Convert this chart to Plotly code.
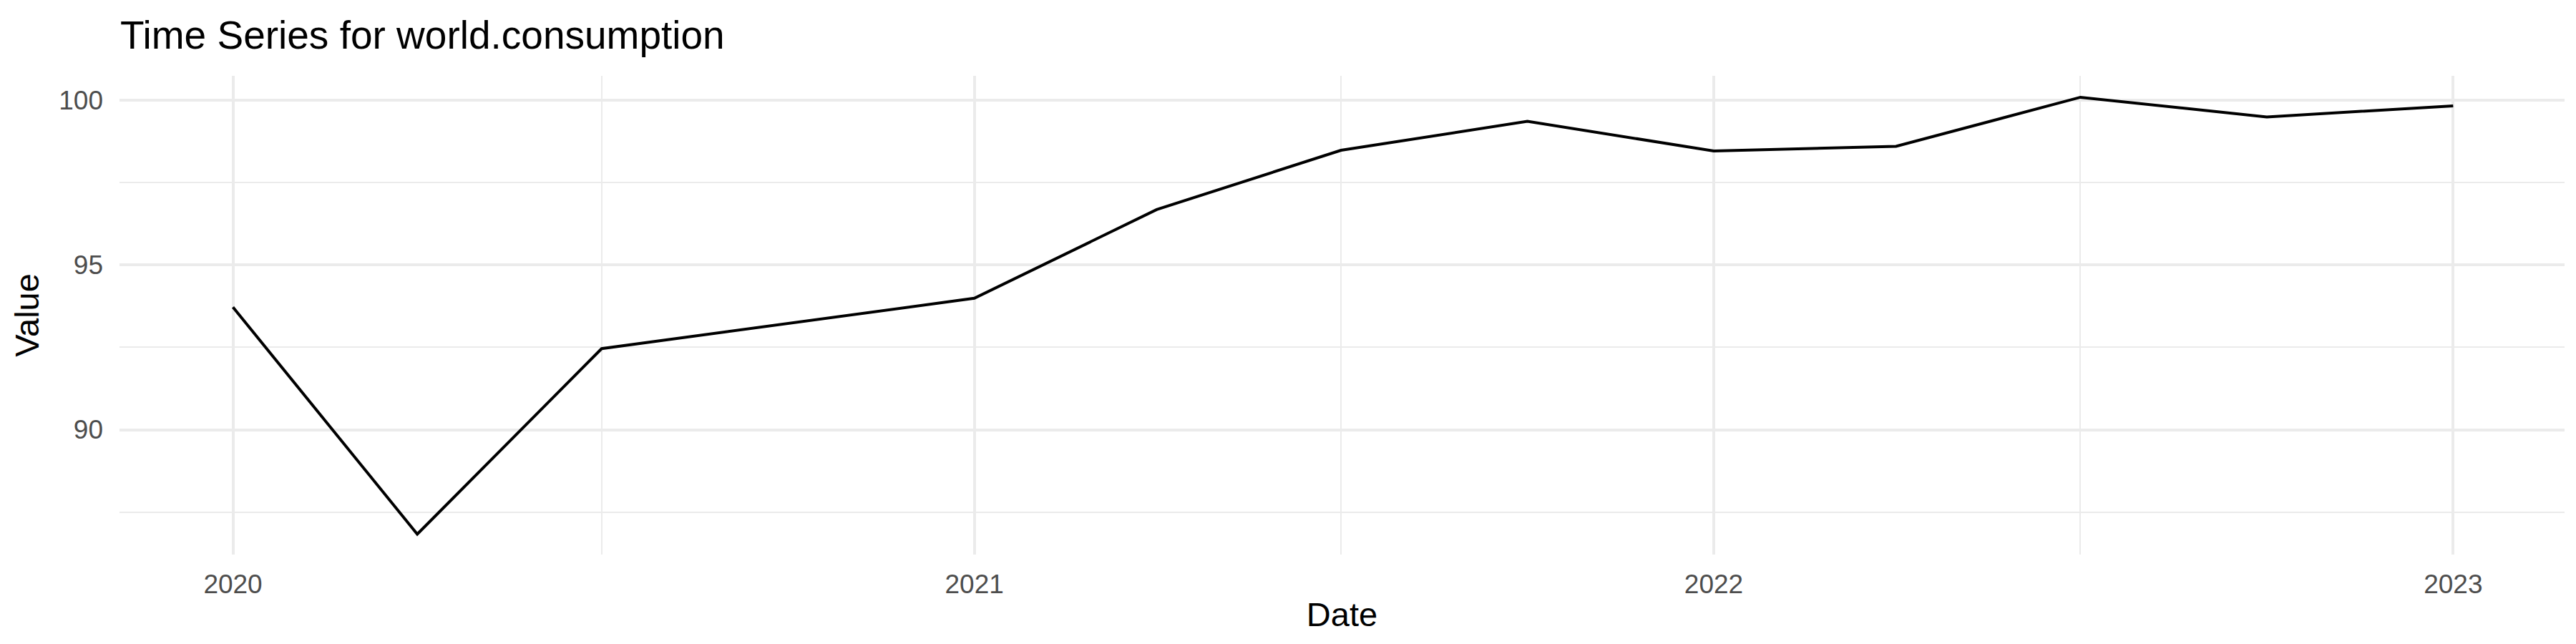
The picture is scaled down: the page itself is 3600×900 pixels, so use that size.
import plotly.graph_objects as go

dates = ["2020-01-01", "2020-04-01", "2020-07-01", "2021-01-01", "2021-04-01",
         "2021-07-01", "2021-10-01", "2022-01-01", "2022-04-01", "2022-07-01",
         "2022-10-01", "2023-01-01"]
values = [93.72, 86.83, 92.46, 93.99, 96.68, 98.48, 99.36, 98.46, 98.60, 100.09,
          99.49, 99.83]

x_tick_vals = ["2020-01-01", "2021-01-01", "2022-01-01", "2023-01-01"]
x_tick_text = ["2020", "2021", "2022", "2023"]
y_tick_vals = [90, 95, 100]
y_tick_text = ["90", "95", "100"]

FONT = "Liberation Sans, Arial, Helvetica, sans-serif"
GRID = "#EBEBEB"

fig = go.Figure()
fig.add_trace(go.Scatter(
    x=dates, y=values, mode="lines",
    line=dict(color="black", width=4),
    showlegend=False, hoverinfo="x+y",
))

fig.update_layout(
    width=3600, height=900,
    paper_bgcolor="white", plot_bgcolor="white",
    margin=dict(l=159, r=24, t=98, b=133, autoexpand=False),
    font=dict(family=FONT, color="#4D4D4D"),
    title=dict(
        text="Time Series for world.consumption",
        font=dict(family=FONT, size=55, color="black"),
        xref="container", x=160 / 3600, xanchor="left",
        yref="container", y=1 - 41 / 900, yanchor="middle",
    ),
)

fig.update_xaxes(
    type="date",
    range=["2019-11-06", "2023-02-25"],
    tickvals=x_tick_vals, ticktext=x_tick_text,
    tickfont=dict(family=FONT, size=37, color="#4D4D4D"),
    ticks="", ticklabelstandoff=16,
    showgrid=True, gridcolor=GRID, gridwidth=4.4,
    minor=dict(dtick="M6", tick0="2020-01-01", showgrid=True, gridcolor=GRID, gridwidth=2.2),
    showline=False, zeroline=False,
    title=dict(text="Date", font=dict(family=FONT, size=47, color="black"), standoff=6),
)
fig.update_yaxes(
    range=[86.21, 100.74],
    tickvals=y_tick_vals, ticktext=y_tick_text,
    tickfont=dict(family=FONT, size=37, color="#4D4D4D"),
    ticks="", ticklabelstandoff=22,
    showgrid=True, gridcolor=GRID, gridwidth=4.4,
    minor=dict(dtick=2.5, tick0=0, showgrid=True, gridcolor=GRID, gridwidth=2.2),
    showline=False, zeroline=False,
    title=dict(text="Value", font=dict(family=FONT, size=47, color="black"), standoff=12),
)

fig.write_html("out.html")
